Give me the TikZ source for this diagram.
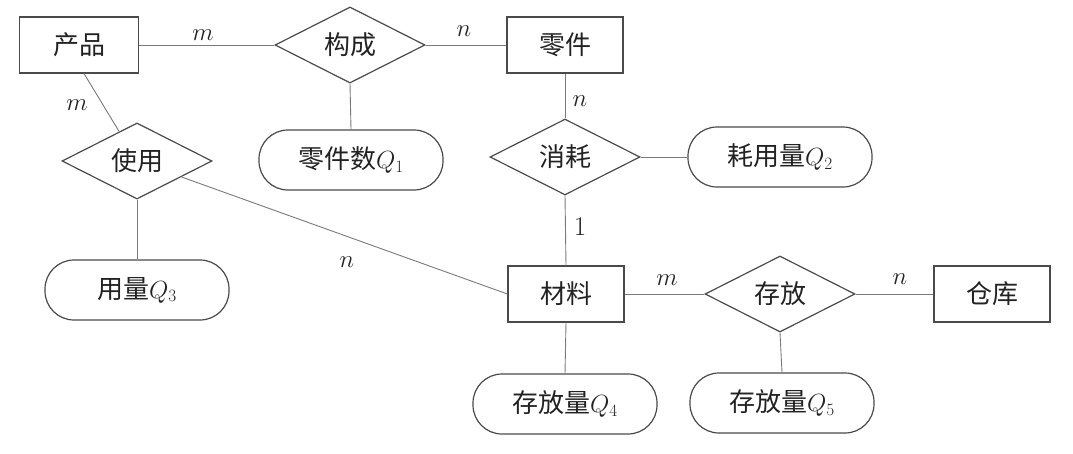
\documentclass[tikz,border=0pt]{standalone}
\usepackage{fontspec}
\usetikzlibrary{shapes.geometric}
\newfontfamily\cjk{Noto Sans CJK SC}
\definecolor{ln}{HTML}{7a7a7a}
\definecolor{bd}{HTML}{4a4a4a}
\definecolor{tx}{HTML}{222222}
\tikzset{
  ent/.style={draw=bd, line width=1.2pt, minimum width=116pt, minimum height=56pt, inner sep=0pt, text=tx, font=\cjk\fontsize{26}{30}\selectfont},
  rel/.style={draw=bd, line width=1.2pt, diamond, minimum width=150pt, minimum height=74pt, inner sep=0pt, text=tx, font=\cjk\fontsize{26}{30}\selectfont},
  attr/.style={draw=bd, line width=1.2pt, rounded corners=29pt, minimum width=184pt, minimum height=60pt, inner sep=0pt, text=tx, font=\cjk\fontsize{26}{30}\selectfont},
  conn/.style={draw=ln, line width=0.9pt},
  card/.style={text=tx, font=\fontsize{27}{30}\selectfont, inner sep=0pt}
}
\begin{document}
\begin{tikzpicture}[x=1pt,y=-1pt]
\useasboundingbox (0,0) rectangle (1073,453);
% entities
\node[ent, minimum width=119pt] (cp) at (79,45) {产品};
\node[ent] (lj) at (565,45) {零件};
\node[ent] (cl) at (566,294) {材料};
\node[ent] (ck) at (992,294) {仓库};
% relationships
\node[rel] (gc) at (350,45) {构成};
\node[rel] (sy) at (137,161) {使用};
\node[rel] (xh) at (565,157) {消耗};
\node[rel] (cf) at (780,294) {存放};
% attributes
\node[attr] (q1) at (351,160) {零件数$Q_1$};
\node[attr] (q2) at (780,157) {耗用量$Q_2$};
\node[attr] (q3) at (137,290) {用量$Q_3$};
\node[attr] (q4) at (565,404) {存放量$Q_4$};
\node[attr] (q5) at (782,403) {存放量$Q_5$};
% connectors
\draw[conn] (cp.east) -- (gc.west);
\draw[conn] (gc.east) -- (lj.west);
\draw[conn] (gc.south) -- (q1.north);
\draw[conn] (lj.south) -- (xh.north);
\draw[conn] (xh.east) -- (q2.west);
\draw[conn] (xh.south) -- (cl.north);
\draw[conn] (cp.-80) -- (sy);
\draw[conn] (sy.south) -- (q3.north);
\draw[conn] (cl.west) -- (sy);
\draw[conn] (cl.east) -- (cf.west);
\draw[conn] (cf.east) -- (ck.west);
\draw[conn] (cl.south) -- (q4.north);
\draw[conn] (cf.south) -- (q5.north);
% cardinalities
\node[card] (c1) at (203,35) {$m$};
\node[card] (c2) at (464,31) {$n$};
\node[card] (c3) at (580,101) {$n$};
\node[card] (c4) at (77,105) {$m$};
\node[card] (c5) at (580,227) {1};
\node[card] (c6) at (347,262) {$n$};
\node[card] (c7) at (667,280) {$m$};
\node[card] (c8) at (900,279) {$n$};
\end{tikzpicture}
\end{document}
